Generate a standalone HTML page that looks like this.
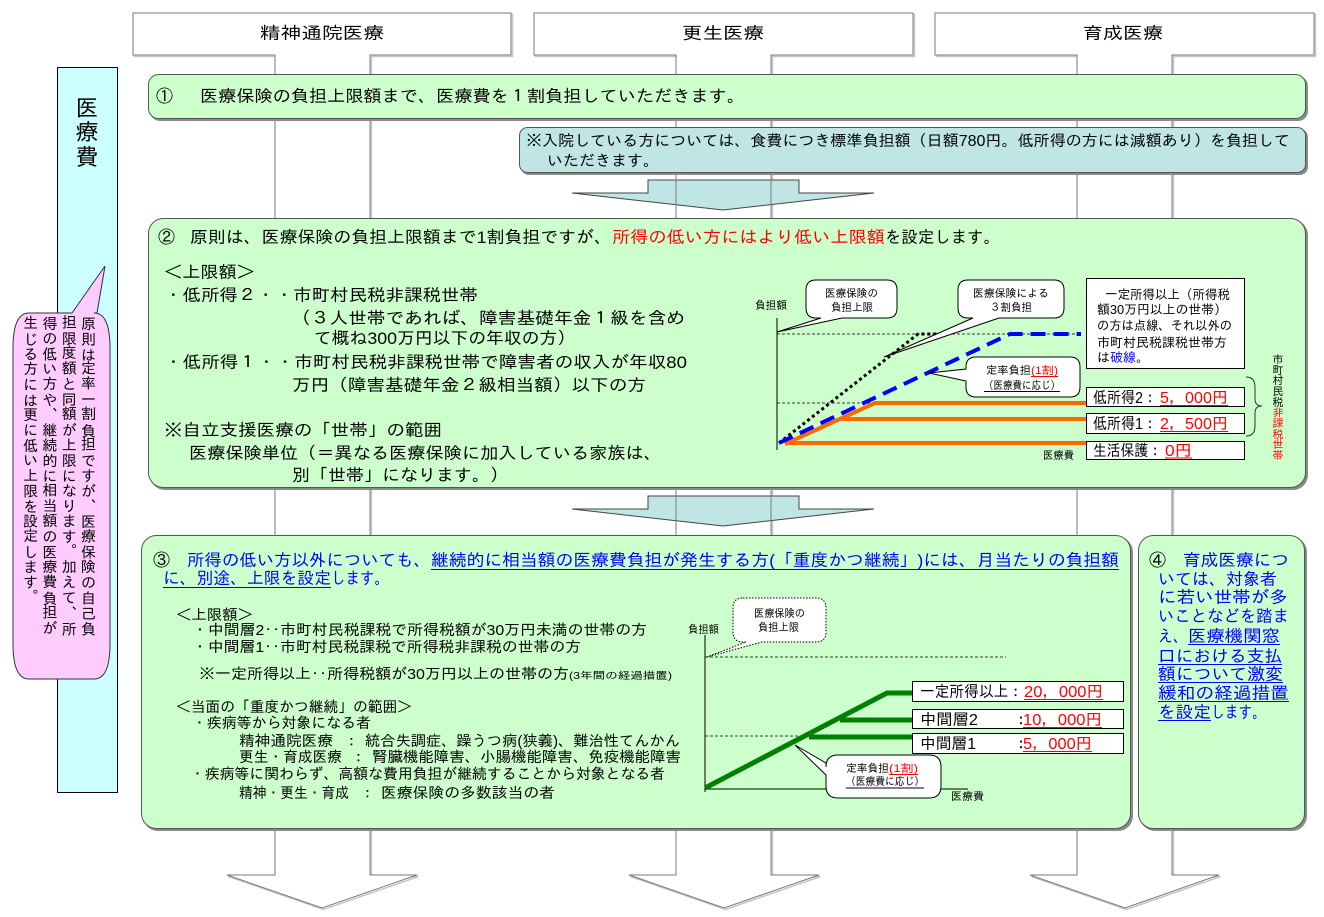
<!DOCTYPE html>
<html><head><meta charset="utf-8">
<style>
html,body{margin:0;padding:0;background:#fff;}
body{width:1324px;height:917px;position:relative;overflow:hidden;}
svg{position:absolute;left:0;top:0;}
text{font-family:"Liberation Sans","IPAGothic","Noto Sans CJK JP",sans-serif;}
.v{position:absolute;left:19px;top:315px;width:78px;height:340px;writing-mode:vertical-rl;font-family:"Liberation Sans","IPAGothic","Noto Sans CJK JP",sans-serif;font-size:15px;line-height:19.3px;letter-spacing:0.25px;white-space:nowrap;color:#000;}
</style></head><body>
<svg width="1324" height="917" viewBox="0 0 1324 917" xmlns="http://www.w3.org/2000/svg">
<!-- header arrows -->
<g fill="none" stroke="#c4c4c4" stroke-width="1.5" transform="translate(1.5,1.5)">
<path d="M133,13 H511 V55 H370 V875 H417 L322,908 L227,875 H275 V55 H133 Z"/>
<path d="M534,13 H913 V55 H771 V875 H819 L724,908 L629,875 H676 V55 H534 Z"/>
<path d="M935,13 H1314 V55 H1172 V875 H1219 L1125,908 L1030,875 H1077 V55 H935 Z"/>
</g>
<g fill="#fff" stroke="#7a7a7a" stroke-width="1">
<path d="M133,13 H511 V55 H370 V875 H417 L322,908 L227,875 H275 V55 H133 Z"/>
<path d="M534,13 H913 V55 H771 V875 H819 L724,908 L629,875 H676 V55 H534 Z"/>
<path d="M935,13 H1314 V55 H1172 V875 H1219 L1125,908 L1030,875 H1077 V55 H935 Z"/>
</g>
<g font-size="17" fill="#000">
<text x="260" y="39" textLength="124" lengthAdjust="spacingAndGlyphs">精神通院医療</text>
<text x="682" y="39" textLength="82" lengthAdjust="spacingAndGlyphs">更生医療</text>
<text x="1083" y="39" textLength="80" lengthAdjust="spacingAndGlyphs">育成医療</text>
</g>

<!-- left cyan bar -->
<rect x="57.5" y="67.5" width="60" height="725" fill="#CCFFFF" stroke="#000" stroke-width="1"/>
<g font-size="23" text-anchor="middle" fill="#000">
<text x="87" y="116">医</text>
<text x="87" y="140">療</text>
<text x="87" y="165">費</text>
</g>
<!-- pink callout -->
<path d="M29,313 H72 L105,266 L97,313 H94 Q110,313 110,348 V644 Q110,679 94,679 H29 Q13,679 13,644 V348 Q13,313 29,313 Z" fill="#FFCCFF" stroke="#333" stroke-width="1"/>

<!-- middle arrows -->
<g fill="#BFE5E5" stroke="#444" stroke-width="1">
<path d="M648,180 H799 V193 H874 L723,210 L572,193 H648 Z"/>
<path d="M648,496 H799 V509 H874 L723,526 L572,509 H648 Z"/>
</g>
<g stroke="#7a7a7a" stroke-width="1">
<line x1="676" y1="173" x2="676" y2="218"/><line x1="771" y1="173" x2="771" y2="218"/>
<line x1="676" y1="488" x2="676" y2="535"/><line x1="771" y1="488" x2="771" y2="535"/>
</g>

<!-- panels shadows -->
<g fill="#8a8a8a">
<rect x="150" y="76" width="1158" height="45" rx="10"/>
<rect x="521" y="129" width="787" height="46" rx="8"/>
<rect x="150" y="220" width="1158" height="270" rx="15"/>
<rect x="143" y="537" width="990" height="294" rx="15"/>
<rect x="1140" y="537" width="167" height="294" rx="15"/>
</g>
<g stroke="#555" stroke-width="1">
<rect x="148.5" y="74.5" width="1157" height="44" rx="10" fill="#CCFFCC"/>
<rect x="519.5" y="127.5" width="786" height="45" rx="8" fill="#BFE5E5"/>
<rect x="148.5" y="218.5" width="1157" height="269" rx="15" fill="#CCFFCC"/>
<rect x="141.5" y="535.5" width="989" height="293" rx="15" fill="#CCFFCC"/>
<rect x="1138.5" y="535.5" width="166" height="293" rx="15" fill="#CCFFCC"/>
</g>

<!-- panel 1 -->
<g font-size="17" fill="#000">
<text x="156" y="102">①</text>
<text x="200" y="102" textLength="545" lengthAdjust="spacingAndGlyphs">医療保険の負担上限額まで、医療費を１割負担していただきます。</text>
</g>
<g font-size="15.5" fill="#000">
<text x="526" y="146" textLength="764" lengthAdjust="spacingAndGlyphs">※入院している方については、食費につき標準負担額（日額780円。低所得の方には減額あり）を負担して</text>
<text x="547" y="166" textLength="112" lengthAdjust="spacingAndGlyphs">いただきます。</text>
</g>

<!-- panel 2 text -->
<g font-size="17" fill="#000">
<text x="158" y="243">②</text>
<text x="190" y="243" textLength="422" lengthAdjust="spacingAndGlyphs">原則は、医療保険の負担上限額まで1割負担ですが、</text>
<text x="612" y="243" textLength="273" lengthAdjust="spacingAndGlyphs" fill="#FF0000">所得の低い方にはより低い上限額</text>
<text x="885" y="243" textLength="115" lengthAdjust="spacingAndGlyphs">を設定します。</text>
<text x="164" y="278" textLength="91" lengthAdjust="spacingAndGlyphs">＜上限額＞</text>
<text x="164" y="301" textLength="314" lengthAdjust="spacingAndGlyphs">・低所得２・・市町村民税非課税世帯</text>
<text x="292" y="324" textLength="393" lengthAdjust="spacingAndGlyphs">（３人世帯であれば、障害基礎年金１級を含め</text>
<text x="314" y="344" textLength="261" lengthAdjust="spacingAndGlyphs">て概ね300万円以下の年収の方）</text>
<text x="164" y="368" textLength="523" lengthAdjust="spacingAndGlyphs">・低所得１・・市町村民税非課税世帯で障害者の収入が年収80</text>
<text x="292" y="391" textLength="354" lengthAdjust="spacingAndGlyphs">万円（障害基礎年金２級相当額）以下の方</text>
<text x="164" y="436" textLength="278" lengthAdjust="spacingAndGlyphs">※自立支援医療の「世帯」の範囲</text>
<text x="189" y="459" textLength="473" lengthAdjust="spacingAndGlyphs">医療保険単位（＝異なる医療保険に加入している家族は、</text>
<text x="292" y="481" textLength="216" lengthAdjust="spacingAndGlyphs">別「世帯」になります。）</text>
</g>

<!-- chart 2 -->
<g stroke="#000" fill="none">
<line x1="777" y1="318" x2="777" y2="450" stroke-width="1"/>
<line x1="777" y1="334" x2="1081" y2="334" stroke-width="0.8" stroke-dasharray="3,2"/>
<line x1="777" y1="403" x2="875" y2="403" stroke-width="0.8" stroke-dasharray="3,2"/>
</g>
<g stroke="#FF6A00" stroke-width="4" fill="none">
<polyline points="785,444 875,403 1086,403"/>
<line x1="842" y1="419" x2="1086" y2="419"/>
<line x1="785" y1="443" x2="1086" y2="443"/>
</g>
<polyline points="779,443 918,334 950,334" fill="none" stroke="#000" stroke-width="3" stroke-dasharray="3,3"/>
<polyline points="779,443 1010,334 1081,334" fill="none" stroke="#0000FF" stroke-width="4" stroke-dasharray="15,8"/>
<g fill="#fff" stroke="#000" stroke-width="1">
<path d="M816,280 H887 Q897,280 897,290 V308 Q897,318 887,318 H842 L777,332 L821,318 H816 Q806,318 806,308 V290 Q806,280 816,280 Z"/>
<path d="M968,280 H1054 Q1064,280 1064,290 V308 Q1064,318 1054,318 H999 L884,357 L973,318 H968 Q958,318 958,308 V290 Q958,280 968,280 Z"/>
<path d="M976,357 H1070 Q1080,357 1080,367 V387 Q1080,397 1070,397 H976 Q966,397 966,387 V381 L929,373 L966,369 V367 Q966,357 976,357 Z"/>
<rect x="1086.5" y="278.5" width="158" height="90"/>
<rect x="1086.5" y="387.5" width="158" height="19"/>
<rect x="1086.5" y="413.5" width="158" height="20"/>
<rect x="1086.5" y="441.5" width="158" height="18"/>
</g>
<g font-size="11" fill="#000">
<text x="755" y="309" textLength="32" lengthAdjust="spacingAndGlyphs">負担額</text>
<text x="1043" y="459" textLength="31" lengthAdjust="spacingAndGlyphs">医療費</text>
<text x="825" y="297" textLength="53" lengthAdjust="spacingAndGlyphs">医療保険の</text>
<text x="831" y="311" textLength="42" lengthAdjust="spacingAndGlyphs">負担上限</text>
<text x="973" y="297" textLength="76" lengthAdjust="spacingAndGlyphs">医療保険による</text>
<text x="990" y="311" textLength="42" lengthAdjust="spacingAndGlyphs">３割負担</text>
<text x="986" y="374" textLength="45" lengthAdjust="spacingAndGlyphs">定率負担</text>
<text x="1031" y="374" textLength="27" lengthAdjust="spacingAndGlyphs" fill="#FF0000">(1割)</text>
<text x="984" y="389" textLength="76" lengthAdjust="spacingAndGlyphs">（医療費に応じ）</text>
</g>
<line x1="1031" y1="376.5" x2="1058" y2="376.5" stroke="#FF0000" stroke-width="1"/>
<line x1="984" y1="391.5" x2="1060" y2="391.5" stroke="#000" stroke-width="1"/>
<g font-size="13" fill="#000">
<text x="1105" y="299" textLength="125" lengthAdjust="spacingAndGlyphs">一定所得以上（所得税</text>
<text x="1097" y="314" textLength="130" lengthAdjust="spacingAndGlyphs">額30万円以上の世帯）</text>
<text x="1097" y="330" textLength="135" lengthAdjust="spacingAndGlyphs">の方は点線、それ以外の</text>
<text x="1097" y="347" textLength="130" lengthAdjust="spacingAndGlyphs">市町村民税課税世帯方</text>
<text x="1097" y="362">は<tspan fill="#0000FF">破線</tspan>。</text>
</g>
<g font-size="16">
<text x="1093" y="403" textLength="64" lengthAdjust="spacingAndGlyphs" fill="#000">低所得2：</text>
<text x="1160" y="403" textLength="68" lengthAdjust="spacingAndGlyphs" fill="#FF0000">5，000円</text>
<text x="1093" y="429" textLength="64" lengthAdjust="spacingAndGlyphs" fill="#000">低所得1：</text>
<text x="1160" y="429" textLength="68" lengthAdjust="spacingAndGlyphs" fill="#FF0000">2，500円</text>
<text x="1093" y="456" textLength="69" lengthAdjust="spacingAndGlyphs" fill="#000">生活保護：</text>
<text x="1165" y="456" textLength="27" lengthAdjust="spacingAndGlyphs" fill="#FF0000">0円</text>
</g>
<g stroke="#FF0000" stroke-width="1">
<line x1="1160" y1="405.5" x2="1228" y2="405.5"/>
<line x1="1160" y1="431.5" x2="1228" y2="431.5"/>
<line x1="1165" y1="458" x2="1192" y2="458"/>
</g>
<path d="M1246,377 Q1255,377 1255,387 V399 Q1255,406 1262,406 Q1255,406 1255,413 V426 Q1255,436 1246,436" fill="none" stroke="#333" stroke-width="1"/>
<g font-size="11" text-anchor="middle">
<text x="1278" y="363">市</text>
<text x="1278" y="374">町</text>
<text x="1278" y="384">村</text>
<text x="1278" y="395">民</text>
<text x="1278" y="406">税</text>
<text x="1278" y="416" fill="#FF0000">非</text>
<text x="1278" y="427" fill="#FF0000">課</text>
<text x="1278" y="438" fill="#FF0000">税</text>
<text x="1278" y="448" fill="#FF0000">世</text>
<text x="1278" y="459" fill="#FF0000">帯</text>
</g>

<!-- panel 3 text -->
<g font-size="17" fill="#0000FF">
<text x="153" y="566" fill="#000">③</text>
<text x="187" y="566" textLength="244" lengthAdjust="spacingAndGlyphs">所得の低い方以外についても、</text>
<text x="431" y="566" textLength="688" lengthAdjust="spacingAndGlyphs">継続的に相当額の医療費負担が発生する方(「重度かつ継続」)には、月当たりの負担額</text>
<text x="163" y="584" textLength="168" lengthAdjust="spacingAndGlyphs">に、別途、上限を設定</text>
<text x="331" y="584" textLength="58" lengthAdjust="spacingAndGlyphs">します。</text>
</g>
<g stroke="#0000FF" stroke-width="1">
<line x1="431" y1="569.5" x2="1119" y2="569.5"/>
<line x1="163" y1="587.5" x2="331" y2="587.5"/>
</g>
<g font-size="15" fill="#000">
<text x="176" y="620" textLength="77" lengthAdjust="spacingAndGlyphs">＜上限額＞</text>
<text x="192" y="635" textLength="455" lengthAdjust="spacingAndGlyphs">・中間層2‥市町村民税課税で所得税額が30万円未満の世帯の方</text>
<text x="192" y="652" textLength="389" lengthAdjust="spacingAndGlyphs">・中間層1‥市町村民税課税で所得税非課税の世帯の方</text>
<text x="199" y="679" textLength="370" lengthAdjust="spacingAndGlyphs">※一定所得以上‥所得税額が30万円以上の世帯の方</text>
<text x="569" y="679" font-size="10" textLength="103" lengthAdjust="spacingAndGlyphs">(3年間の経過措置)</text>
<text x="176" y="712" textLength="236" lengthAdjust="spacingAndGlyphs">＜当面の「重度かつ継続」の範囲＞</text>
<text x="192" y="728" textLength="179" lengthAdjust="spacingAndGlyphs">・疾病等から対象になる者</text>
<text x="239" y="746" textLength="94" lengthAdjust="spacingAndGlyphs">精神通院医療</text>
<text x="344" y="746">：</text>
<text x="365" y="746" textLength="315" lengthAdjust="spacingAndGlyphs">統合失調症、躁うつ病(狭義)、難治性てんかん</text>
<text x="239" y="762" textLength="103" lengthAdjust="spacingAndGlyphs">更生・育成医療</text>
<text x="351" y="762">：</text>
<text x="372" y="762" textLength="309" lengthAdjust="spacingAndGlyphs">腎臓機能障害、小腸機能障害、免疫機能障害</text>
<text x="190" y="779" textLength="475" lengthAdjust="spacingAndGlyphs">・疾病等に関わらず、高額な費用負担が継続することから対象となる者</text>
<text x="239" y="798" textLength="110" lengthAdjust="spacingAndGlyphs">精神・更生・育成</text>
<text x="360" y="798">：</text>
<text x="381" y="798" textLength="174" lengthAdjust="spacingAndGlyphs">医療保険の多数該当の者</text>
</g>

<!-- chart 3 -->
<g stroke="#000" fill="none">
<line x1="705" y1="635" x2="705" y2="792" stroke-width="1"/>
<line x1="705" y1="789" x2="968" y2="789" stroke-width="1"/>
<line x1="705" y1="657" x2="1006" y2="657" stroke-width="0.8" stroke-dasharray="3,2"/>
<line x1="705" y1="736" x2="811" y2="736" stroke-width="0.8" stroke-dasharray="3,2"/>
</g>
<g stroke="#008000" stroke-width="5" fill="none">
<polyline points="705,788 887,693 912,693"/>
<line x1="840" y1="720" x2="912" y2="720"/>
<line x1="809" y1="737" x2="912" y2="737"/>
</g>
<path d="M743,598 H816 Q826,598 826,608 V632 Q826,642 816,642 H762 L707,657 L746,642 H743 Q733,642 733,632 V608 Q733,598 743,598 Z" fill="#fff" stroke="#000" stroke-width="1" stroke-dasharray="1.5,1.5"/>
<path d="M838,755 H929 Q941,755 941,767 V786 Q941,798 929,798 H838 Q826,798 826,786 V775 L795,745 L826,763 V767 Q826,755 838,755 Z" fill="#fff" stroke="#000" stroke-width="1"/>
<g fill="#fff" stroke="#000" stroke-width="1">
<rect x="912.5" y="681.5" width="211" height="20"/>
<rect x="912.5" y="709.5" width="211" height="19"/>
<rect x="912.5" y="733.5" width="211" height="20"/>
</g>
<g font-size="11" fill="#000">
<text x="688" y="633" textLength="31" lengthAdjust="spacingAndGlyphs">負担額</text>
<text x="951" y="800" textLength="33" lengthAdjust="spacingAndGlyphs">医療費</text>
<text x="754" y="617" textLength="51" lengthAdjust="spacingAndGlyphs">医療保険の</text>
<text x="758" y="631" textLength="41" lengthAdjust="spacingAndGlyphs">負担上限</text>
<text x="846" y="772" textLength="43" lengthAdjust="spacingAndGlyphs">定率負担</text>
<text x="889" y="772" textLength="29" lengthAdjust="spacingAndGlyphs" fill="#FF0000">(1割)</text>
<text x="846" y="785" textLength="78" lengthAdjust="spacingAndGlyphs">（医療費に応じ）</text>
</g>
<line x1="889" y1="774.5" x2="918" y2="774.5" stroke="#FF0000" stroke-width="1"/>
<line x1="846" y1="788" x2="924" y2="788" stroke="#000" stroke-width="1"/>
<g font-size="16">
<text x="920" y="697" textLength="103" lengthAdjust="spacingAndGlyphs" fill="#000">一定所得以上：</text>
<text x="1024" y="697" textLength="79" lengthAdjust="spacingAndGlyphs" fill="#FF0000">20，000円</text>
<text x="920" y="725" textLength="58" lengthAdjust="spacingAndGlyphs" fill="#000">中間層2</text>
<text x="1013" y="725" fill="#000">：</text>
<text x="1023" y="725" textLength="79" lengthAdjust="spacingAndGlyphs" fill="#FF0000">10，000円</text>
<text x="920" y="749" textLength="56" lengthAdjust="spacingAndGlyphs" fill="#000">中間層1</text>
<text x="1013" y="749" fill="#000">：</text>
<text x="1023" y="749" textLength="69" lengthAdjust="spacingAndGlyphs" fill="#FF0000">5，000円</text>
</g>
<g stroke="#FF0000" stroke-width="1">
<line x1="1024" y1="699.5" x2="1103" y2="699.5"/>
<line x1="1023" y1="727.5" x2="1102" y2="727.5"/>
<line x1="1023" y1="751.5" x2="1092" y2="751.5"/>
</g>

<!-- panel 4 -->
<g font-size="17" fill="#0000FF">
<text x="1149" y="566" fill="#000">④</text>
<text x="1183" y="566" textLength="106" lengthAdjust="spacingAndGlyphs">育成医療につ</text>
<text x="1158" y="585" textLength="119" lengthAdjust="spacingAndGlyphs">いては、対象者</text>
<text x="1158" y="603" textLength="130" lengthAdjust="spacingAndGlyphs">に若い世帯が多</text>
<text x="1158" y="622" textLength="131" lengthAdjust="spacingAndGlyphs">いことなどを踏ま</text>
<text x="1158" y="642" textLength="30" lengthAdjust="spacingAndGlyphs">え、</text>
<text x="1188" y="642" textLength="92" lengthAdjust="spacingAndGlyphs">医療機関窓</text>
<text x="1158" y="662" textLength="124" lengthAdjust="spacingAndGlyphs">口における支払</text>
<text x="1158" y="680" textLength="125" lengthAdjust="spacingAndGlyphs">額について激変</text>
<text x="1158" y="699" textLength="131" lengthAdjust="spacingAndGlyphs">緩和の経過措置</text>
<text x="1158" y="718" textLength="53" lengthAdjust="spacingAndGlyphs">を設定</text>
<text x="1211" y="718" textLength="55" lengthAdjust="spacingAndGlyphs">します。</text>
</g>
<g stroke="#0000FF" stroke-width="1">
<line x1="1188" y1="644.5" x2="1280" y2="644.5"/>
<line x1="1158" y1="664.5" x2="1282" y2="664.5"/>
<line x1="1158" y1="682.5" x2="1283" y2="682.5"/>
<line x1="1158" y1="701.5" x2="1289" y2="701.5"/>
<line x1="1158" y1="720.5" x2="1211" y2="720.5"/>
</g>
</svg>
<div class="v">原則は定率一割負担ですが、医療保険の自己負<br>担限度額と同額が上限になります。加えて、所<br>得の低い方や、継続的に相当額の医療費負担が<br>生じる方には更に低い上限を設定します。</div>
</body></html>
